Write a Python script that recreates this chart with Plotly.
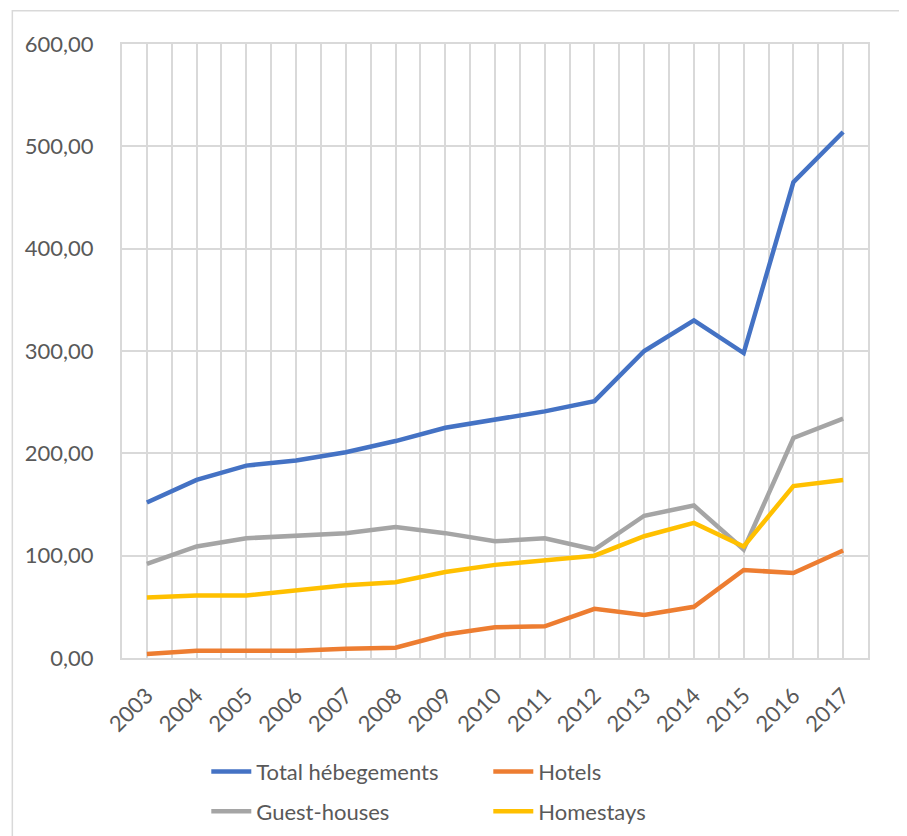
import plotly.graph_objects as go

# --- data ---
years = [2003, 2004, 2005, 2006, 2007, 2008, 2009, 2010, 2011, 2012, 2013, 2014, 2015, 2016, 2017]
total = [152, 174, 188, 193, 201, 212, 225, 233, 241, 251, 300, 330, 298, 465, 514]
hotels = [4, 7, 7, 7, 9, 10, 23, 30, 31, 48, 42, 50, 86, 83, 105]
guest_houses = [92, 109, 117, 119, 122, 128, 122, 114, 117, 106, 139, 149, 106, 215, 234]
homestays = [59, 61, 61, 66, 71, 74, 84, 91, 95, 100, 119, 132, 109, 168, 174]
y_ticks = [0, 100, 200, 300, 400, 500, 600]

# (name, values, colour, legend row)
series = [
    ("Total hébegements", total, "#4472C4", "legend"),
    ("Hotels", hotels, "#ED7D31", "legend"),
    ("Guest-houses", guest_houses, "#A5A5A5", "legend2"),
    ("Homestays", homestays, "#FFC000", "legend2"),
]

fig = go.Figure()
for name, vals, color, leg in series:
    fig.add_trace(go.Scatter(x=years, y=vals, name=name, mode="lines", legend=leg,
                             line=dict(color=color, width=4.5)))

grid = "#D9D9D9"
font_color = "#595959"
fsize = 22

fig.update_xaxes(
    range=[years[0] - 0.5, years[-1] + 0.5],
    tickvals=years, ticktext=[str(y) for y in years],
    tickangle=-45, showgrid=True, gridcolor=grid, gridwidth=2,
    minor=dict(dtick=0.5, tick0=0.5, showgrid=True, gridcolor=grid, gridwidth=2),
    showline=True, linecolor=grid, linewidth=2, mirror=True,
    zeroline=False, ticks="", tickfont=dict(size=fsize, color=font_color),
    ticklabelstandoff=14,
)
fig.update_yaxes(
    range=[0, 600], tickvals=y_ticks, tickformat=".2f",
    showgrid=True, gridcolor=grid, gridwidth=2,
    showline=True, linecolor=grid, linewidth=2, mirror=True,
    zeroline=False, ticks="", tickfont=dict(size=fsize, color=font_color),
    ticklabelstandoff=22,
)

# chart area frame
fig.add_shape(type="rect", xref="paper", yref="paper",
              x0=-0.147, x1=1.3, y0=-0.5, y1=1.054,
              line=dict(color=grid, width=1.5), fillcolor="rgba(0,0,0,0)", layer="below")

leg_style = dict(orientation="h", x=0.113, xanchor="left", yanchor="middle",
                 entrywidth=227, entrywidthmode="pixels",
                 font=dict(size=fsize, color=font_color), itemwidth=40)

fig.update_layout(
    width=907, height=836,
    margin=dict(l=114, r=47, t=36, b=177),
    separators=", ",
    font=dict(family="Lato, Open Sans, sans-serif", color=font_color),
    plot_bgcolor="white", paper_bgcolor="white",
    showlegend=True,
    legend=dict(y=-0.185, **leg_style),
    legend2=dict(y=-0.25, **leg_style),
)

fig.write_html("out.html")
